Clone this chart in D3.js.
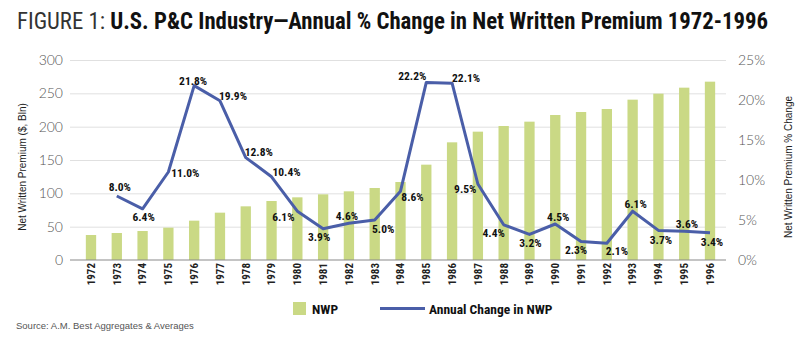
<!DOCTYPE html>
<html><head><meta charset="utf-8">
<script src="https://cdn.jsdelivr.net/npm/d3@7"></script>
<style>
body{margin:0;background:#fff}
.cond{font-family:"Liberation Sans Narrow","Arial Narrow","Roboto Condensed","DejaVu Sans Condensed",sans-serif;font-weight:bold}
.light{font-family:Lato,"Open Sans",sans-serif;font-weight:300}
</style>
</head><body><svg id="c" width="805" height="341"></svg>
<script>
const years = ["1972","1973","1974","1975","1976","1977","1978","1979","1980","1981","1982","1983","1984","1985","1986","1987","1988","1989","1990","1991","1992","1993","1994","1995","1996"];
const nwp = [37.5,40.5,43.5,48.5,59,71,80.5,88.5,94,98.5,103,108,117,143,176.5,192.5,201,207.5,217.5,222,226.5,240.5,249.5,258.5,267.5];
const pctChange = [null,8.0,6.4,11.0,21.8,19.9,12.8,10.4,6.1,3.9,4.6,5.0,8.6,22.2,22.1,9.5,4.4,3.2,4.5,2.3,2.1,6.1,3.7,3.6,3.4];
const leftTicks = [0,50,100,150,200,250,300];
const rightTicks = [0,5,10,15,20,25];
const titleLead = "FIGURE 1: ";
const titleMain = "U.S. P&C Industry\u2014Annual % Change in Net Written Premium 1972-1996";
const leftTitle = "Net Written Premium ($, Bln)";
const rightTitle = "Net Written Premium % Change";
const legendBar = "NWP";
const legendLine = "Annual Change in NWP";
const source = "Source: A.M. Best Aggregates & Averages";
// label placement offsets (dx, dy) relative to each point
const labelOffsets = [null,[3,-9],[1,8],[17,1],[-1,-5],[13,-5],[13,-6],[15,-5],[-14,5.5],[-4,8.5],[-2,-7.5],[8.5,9],[12,6],[-14,-6],[14,-5],[-12.6,5],[-10,8],[1,9],[3,-7],[-5,8.5],[10,8],[3,-7],[2.5,9.6],[2.7,-7],[2,9]];

const svg = d3.select("#c");
const X0 = 70, X1 = 726;
const x = d3.scaleBand().domain(years).range([78.1,722.9]).paddingInner(0.6).paddingOuter(0.3);
const yL = d3.scaleLinear().domain([0,300]).range([260,60]);
const yR = d3.scaleLinear().domain([0,25]).range([260,60]);
const cx = d => x(d) + x.bandwidth()/2;

// gridlines
const grid = svg.append("g").attr("transform",`translate(${X0},0)`)
  .call(d3.axisLeft(yL).tickValues(leftTicks.filter(t=>t>0)).tickSize(-(X1-X0)).tickFormat(""));
grid.select(".domain").remove();
grid.selectAll("line").attr("stroke","#e0e0e0").attr("stroke-width",1);

// bars
svg.append("g").selectAll("rect").data(years).join("rect")
  .attr("x", d=>x(d)).attr("width", x.bandwidth())
  .attr("y", (d,i)=>yL(nwp[i])).attr("height",(d,i)=>yL(0)-yL(nwp[i]))
  .attr("fill","#cad985");

// baseline
svg.append("line").attr("x1",X0).attr("x2",X1).attr("y1",yL(0)).attr("y2",yL(0)).attr("stroke","#8a8a8a").attr("stroke-width",1.2);

// left axis labels
const la = svg.append("g").attr("transform",`translate(${X0},0)`)
  .call(d3.axisLeft(yL).tickValues(leftTicks).tickSize(0).tickPadding(7));
la.select(".domain").remove();
la.selectAll("text").attr("class","light").attr("font-size",14).attr("fill","#555");

// right axis labels
const ra = svg.append("g").attr("transform",`translate(${X1},0)`)
  .call(d3.axisRight(yR).tickValues(rightTicks).tickSize(0).tickPadding(12).tickFormat(d=>d+"%"));
ra.select(".domain").remove();
ra.selectAll("text").attr("class","light").attr("font-size",14).attr("fill","#555");

// x axis
const xa = svg.append("g").attr("transform",`translate(0,${yL(0)})`)
  .call(d3.axisBottom(x).tickSize(0));
xa.select(".domain").remove();
xa.selectAll("text").attr("class","cond").attr("font-size",11).attr("fill","#222")
  .attr("transform","rotate(-90)").attr("text-anchor","end").attr("x",-3).attr("y",0).attr("dy","0.35em");

// line
const pts = years.map((d,i)=>({year:d, v:pctChange[i], off:labelOffsets[i]}));
const line = d3.line().defined(d=>d.v!=null).x(d=>cx(d.year)).y(d=>yR(d.v));
svg.append("path").datum(pts).attr("d",line).attr("fill","none").attr("stroke","#4a5ea8").attr("stroke-width",3).attr("stroke-linejoin","round");

// data labels
svg.append("g").selectAll("text").data(pts.filter(d=>d.v!=null)).join("text")
  .attr("class","cond").attr("font-size",11.5).attr("fill","#111")
  .attr("text-anchor","middle").attr("dominant-baseline","central")
  .attr("x", d=>cx(d.year)+d.off[0]).attr("y", d=>yR(d.v)+d.off[1])
  .text(d=>d.v.toFixed(1)+"%");

// title
const t = svg.append("text").attr("x",17).attr("y",29).attr("font-size",23)
  .attr("textLength",751).attr("lengthAdjust","spacingAndGlyphs");
t.append("tspan").attr("class","cond").attr("fill","#333").style("font-weight","normal").text(titleLead);
t.append("tspan").attr("class","cond").attr("fill","#111").text(titleMain);

// axis titles
svg.append("text").attr("transform",`translate(22,167) rotate(-90)`).attr("text-anchor","middle").attr("dominant-baseline","central")
  .attr("font-family","Liberation Sans, Arial, sans-serif").attr("font-size",10).attr("fill","#222").text(leftTitle);
svg.append("text").attr("transform",`translate(788,167) rotate(-90)`).attr("text-anchor","middle").attr("dominant-baseline","central")
  .attr("font-family","Liberation Sans, Arial, sans-serif").attr("font-size",10).attr("fill","#222").text(rightTitle);

// legend
svg.append("rect").attr("x",293).attr("y",302).attr("width",13).attr("height",13).attr("fill","#cad985");
svg.append("text").attr("class","cond").attr("x",312).attr("y",308.5).attr("dominant-baseline","central").attr("font-size",13.5).attr("fill","#111").text(legendBar);
svg.append("line").attr("x1",380).attr("x2",425).attr("y1",308.5).attr("y2",308.5).attr("stroke","#4a5ea8").attr("stroke-width",3);
svg.append("text").attr("class","cond").attr("x",429).attr("y",308.5).attr("dominant-baseline","central").attr("font-size",13.5).attr("fill","#111").text(legendLine);

// source
svg.append("text").attr("x",16).attr("y",329).attr("font-family","Liberation Sans Narrow, Liberation Sans, sans-serif").attr("font-size",9.5).attr("fill","#555").text(source);
</script></body></html>
